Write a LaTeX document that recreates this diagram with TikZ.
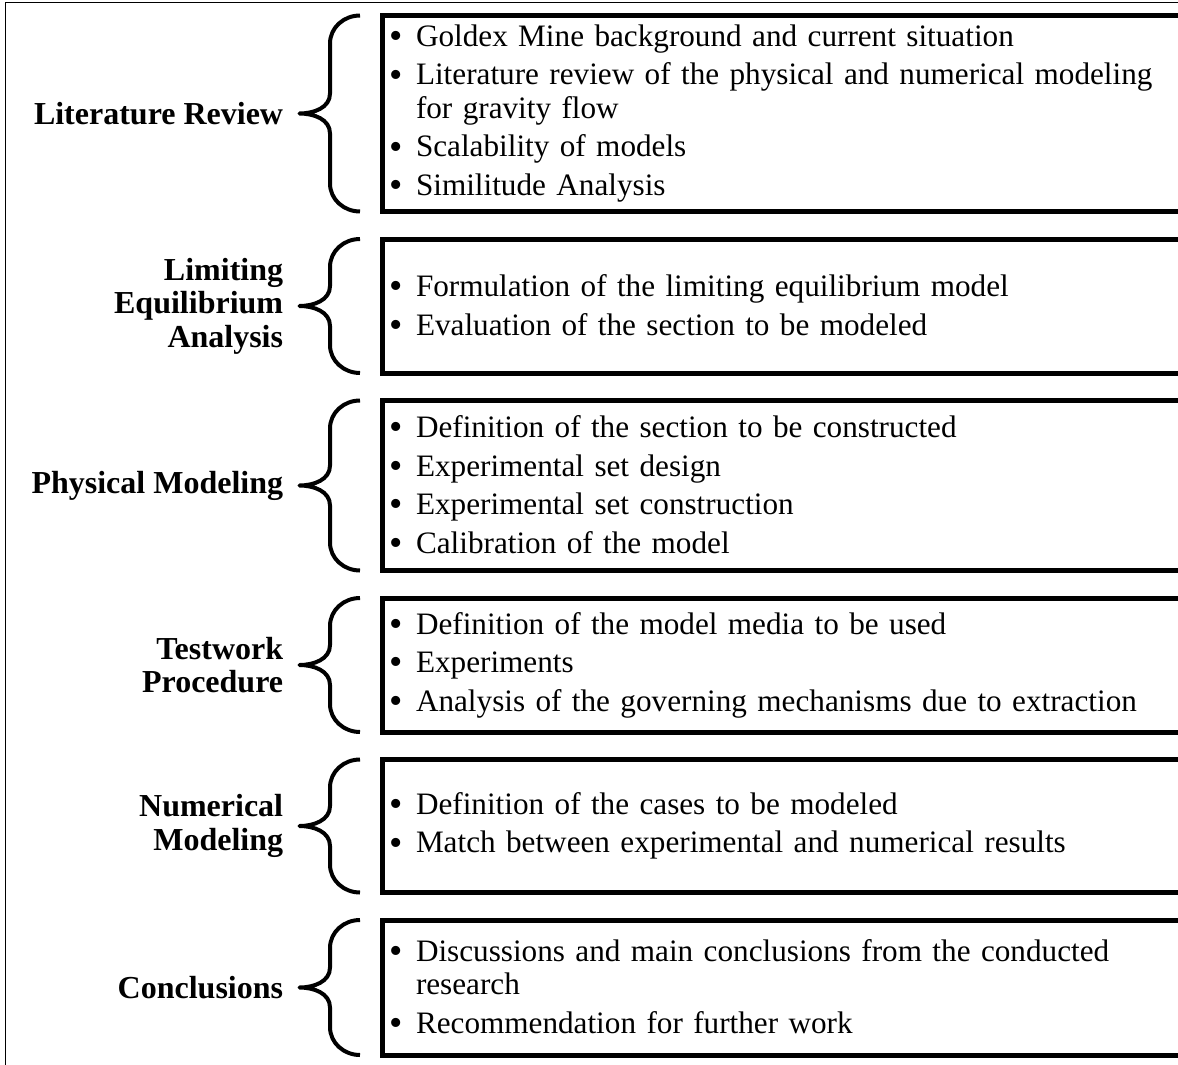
\documentclass[tikz,border=0pt]{standalone}
\usepackage{fontspec}
\setmainfont{Liberation Serif}
\usetikzlibrary{positioning, calc}
\tikzset{
  % Box with the bullet list of one stage
  stagebox/.style={
    draw, rectangle, line width=2.5pt, outer sep=0pt,
    anchor=north west, inner xsep=3.25pt, inner ysep=0pt,
    text width=400pt, align=left,
    font=\fontsize{15.6}{16.75}\selectfont
  },
  % Bold stage name left of the brace
  stagelabel/.style={
    align=right, inner sep=0pt,
    font=\fontsize{16}{16.75}\selectfont\bfseries
  },
  % Curly brace between name and box
  bracestroke/.style={line width=2pt, line join=round},
  outerframe/.style={draw, line width=0.75pt},
}
\newcommand{\bitem}[1]{\makebox[13.5pt][l]{\raisebox{-1.1pt}{\fontsize{19}{16.75}\selectfont\textbullet}}#1}
\newcommand{\bcont}[1]{\hspace*{13.5pt}#1}
\newcommand{\stagebrace}[1]{%
  \draw[bracestroke]
    ($(#1.north west)+(-22.5,0)$) to[out=180,in=90] ($(#1.north west)+(-52.5,28)$)
    -- ($(#1.west)+(-52.5,-20)$) to[out=-90,in=0] ($(#1.west)+(-83,0)$)
    to[out=0,in=90] ($(#1.west)+(-52.5,20)$)
    -- ($(#1.south west)+(-52.5,-28)$) to[out=-90,in=180] ($(#1.south west)+(-22.5,0)$);
}

\begin{document}
\begin{tikzpicture}[x=0.5pt, y=-0.5pt]

  \useasboundingbox (0,0) rectangle (1178,1065);
  \clip (0,0) rectangle (1178,1065);

  %% ── Outer frame ──
  \draw[outerframe] (5.5,1090) |- (1200,2.5);

  %% ── Boxes ──
  \node[stagebox, minimum height=98pt] (litbox) at (382.5,15.5) {%
    \bitem{Goldex Mine background and current situation}\\[2.5pt]
    \bitem{Literature review of the physical and numerical modeling}\\
    \bcont{for gravity flow}\\[2.5pt]
    \bitem{Scalability of models}\\[2.5pt]
    \bitem{Similitude Analysis}};
  \node[stagebox, minimum height=67pt, below=13.75pt of litbox] (limbox) {%
    \bitem{Formulation of the limiting equilibrium model}\\[2.5pt]
    \bitem{Evaluation of the section to be modeled}};
  \node[stagebox, minimum height=85pt, below=13.75pt of limbox] (physbox) {%
    \bitem{Definition of the section to be constructed}\\[2.5pt]
    \bitem{Experimental set design}\\[2.5pt]
    \bitem{Experimental set construction}\\[2.5pt]
    \bitem{Calibration of the model}};
  \node[stagebox, minimum height=67pt, below=13.75pt of physbox] (testbox) {%
    \bitem{Definition of the model media to be used}\\[2.5pt]
    \bitem{Experiments}\\[2.5pt]
    \bitem{Analysis of the governing mechanisms due to extraction}};
  \node[stagebox, minimum height=66.5pt, below=13.75pt of testbox] (numbox) {%
    \bitem{Definition of the cases to be modeled}\\[2.5pt]
    \bitem{Match between experimental and numerical results}};
  \node[stagebox, minimum height=67.5pt, below=13.75pt of numbox] (conclbox) {%
    \bitem{Discussions and main conclusions from the conducted}\\
    \bcont{research}\\[2.5pt]
    \bitem{Recommendation for further work}};

  %% ── Stage names ──
  \node[stagelabel, left=49.5pt of litbox.west]   (litlabel)   {Literature Review};
  \node[stagelabel, left=49.5pt of limbox.west]   (limlabel)   {Limiting\\Equilibrium\\Analysis};
  \node[stagelabel, left=49.5pt of physbox.west]  (physlabel)  {Physical Modeling};
  \node[stagelabel, left=49.5pt of testbox.west]  (testlabel)  {Testwork\\Procedure};
  \node[stagelabel, left=49.5pt of numbox.west]   (numlabel)   {Numerical\\Modeling};
  \node[stagelabel, left=49.5pt of conclbox.west] (concllabel) {Conclusions};

  %% ── Braces ──
  \stagebrace{litbox}
  \stagebrace{limbox}
  \stagebrace{physbox}
  \stagebrace{testbox}
  \stagebrace{numbox}
  \stagebrace{conclbox}

\end{tikzpicture}
\end{document}
